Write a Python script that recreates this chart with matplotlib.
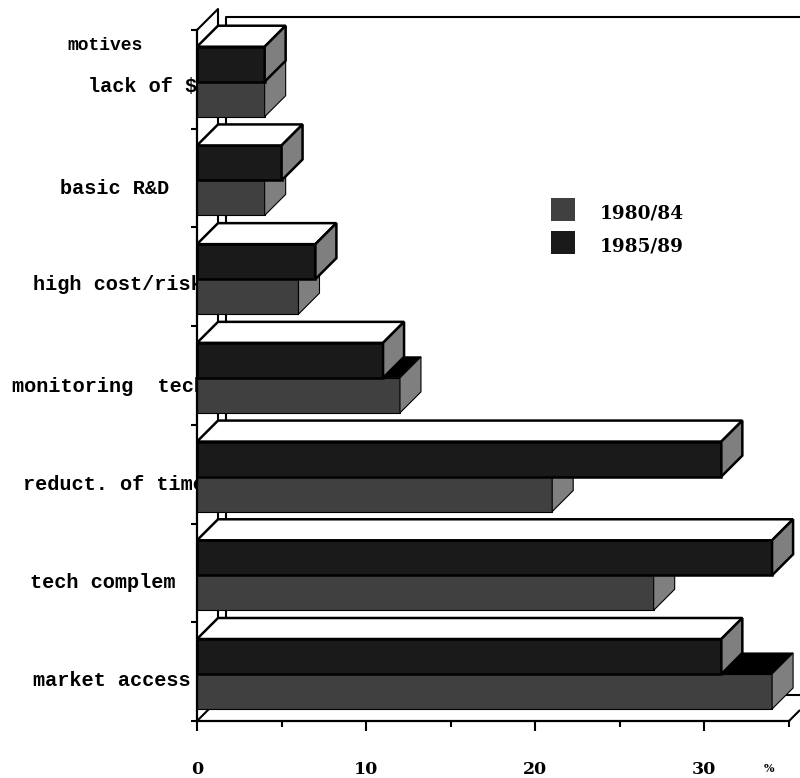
import matplotlib
matplotlib.use("Agg")
import matplotlib.pyplot as plt
from matplotlib.patches import Polygon, Patch

# bottom to top, same order as the ticks on the axis
motives = ["market access", "tech complem", "reduct. of time", "monitoring  tech",
           "high cost/risk", "basic R&D", "lack of $"]
share_8084 = [34, 27, 21, 12, 6, 4, 4]
share_8589 = [31, 34, 31, 11, 7, 5, 4]
series_names = ["1980/84", "1985/89"]
x_major = [0, 10, 20, 30]
x_minor = [5, 15, 25, 35]

W, H = 800, 778
left_px, right_px, bottom_px, top_px = 197, 789, 721, 30
px_x = (right_px - left_px) / 35
px_y = (bottom_px - top_px) / 7

# depth of the fake 3d boxes
dx = 21 / px_x
dy = 21 / px_y
bar_h = 35 / px_y
gap = 12 / px_y

dark = "#404040"
darker = "#1a1a1a"
side = "#7f7f7f"
serif = "DejaVu Serif"
mono = "Liberation Mono"

fig = plt.figure(figsize=(W / 100, H / 100), dpi=100)
ax = fig.add_axes([left_px / W, 1 - bottom_px / H, (right_px - left_px) / W, (bottom_px - top_px) / H])
ax.set_xlim(0, 35)
ax.set_ylim(0, 7)
for s in ["top", "right"]:
    ax.spines[s].set_visible(False)
for s in ["left", "bottom"]:
    ax.spines[s].set_linewidth(1.6)
    ax.spines[s].set_zorder(20)

ax.set_xticks(x_major)
ax.set_xticks(x_minor, minor=True)
ax.set_xticklabels([str(v) for v in x_major], family=serif, fontweight="bold", fontsize=12.5)
ax.set_yticks(range(8))
ax.set_yticklabels([])
ax.tick_params(axis="x", which="major", length=7.5, width=1.5, pad=21)
ax.tick_params(axis="x", which="minor", length=4.5, width=1.5)
ax.tick_params(axis="y", length=4.5, width=1.5)


def back_line(xs, ys, z=1):
    ax.plot(xs, ys, color="black", lw=1.5, clip_on=False, zorder=z, solid_capstyle="butt")


# back wall, what is left visible of it
wall2 = 29 / px_x
floor = 26 / px_y
back_line([0, dx, dx], [7, 7 + dy, floor])
back_line([wall2, wall2, (W - left_px) / px_x], [floor, 7 + 13 / px_y, 7 + 13 / px_y])
back_line([0, dx], [0, dy])
back_line([35, 35 + 11 / px_x], [0, 11 / px_y])
back_line([wall2, (W - left_px) / px_x], [floor, floor])


def box(x, y, front, top, edge_lw, z):
    ax.barh(y, x, height=bar_h, align="edge", color=front, edgecolor="black", linewidth=edge_lw, zorder=z)
    t = y + bar_h
    ax.add_patch(Polygon([(0, t), (dx, t + dy), (x + dx, t + dy), (x, t)], closed=True,
                         facecolor=top, edgecolor="black", linewidth=edge_lw, zorder=z, clip_on=False))
    ax.add_patch(Polygon([(x, y), (x + dx, y + dy), (x + dx, t + dy), (x, t)], closed=True,
                         facecolor=side, edgecolor="black", linewidth=edge_lw, zorder=z, clip_on=False))


for i in range(len(motives)):
    z = 5 + (len(motives) - i) * 2
    box(share_8084[i], i + gap, dark, "black", 0.8, z)
    box(share_8589[i], i + gap + bar_h, darker, "white", 1.8, z + 1)

# labels run under the bars, the bars cut off the long ones
label_left = [33, 30, 23, 12, 33, 60, 88]
label_y = [681, 582, 484, 386, 285, 188, 87]
for name, lx, ly in zip(motives, label_left, label_y):
    fig.text(lx / W, 1 - ly / H, name, family=mono, fontweight="bold", fontsize=14.6,
             va="center", ha="left", zorder=0)
ax.patch.set_alpha(0)
ax.set_zorder(2)

fig.text(67 / W, 1 - 46 / H, "motives", family=mono, fontweight="bold", fontsize=13, va="center")
fig.text(769 / W, 1 - 769 / H, "%", family=serif, fontweight="bold", fontsize=8, va="center", ha="center")

handles = [Patch(facecolor=dark, edgecolor="none"), Patch(facecolor=darker, edgecolor="none")]
leg = ax.legend(handles, series_names, loc="upper left", bbox_to_anchor=(0.598, 0.757), frameon=False,
                prop={"family": serif, "weight": "bold", "size": 13.3},
                handlelength=1.3, handleheight=1.55, labelspacing=0.55, handletextpad=1.35,
                borderpad=0, borderaxespad=0)
leg.set_zorder(40)
for t in leg.get_texts():
    t.set_y(-3)

fig.savefig("out.png", dpi=100)
